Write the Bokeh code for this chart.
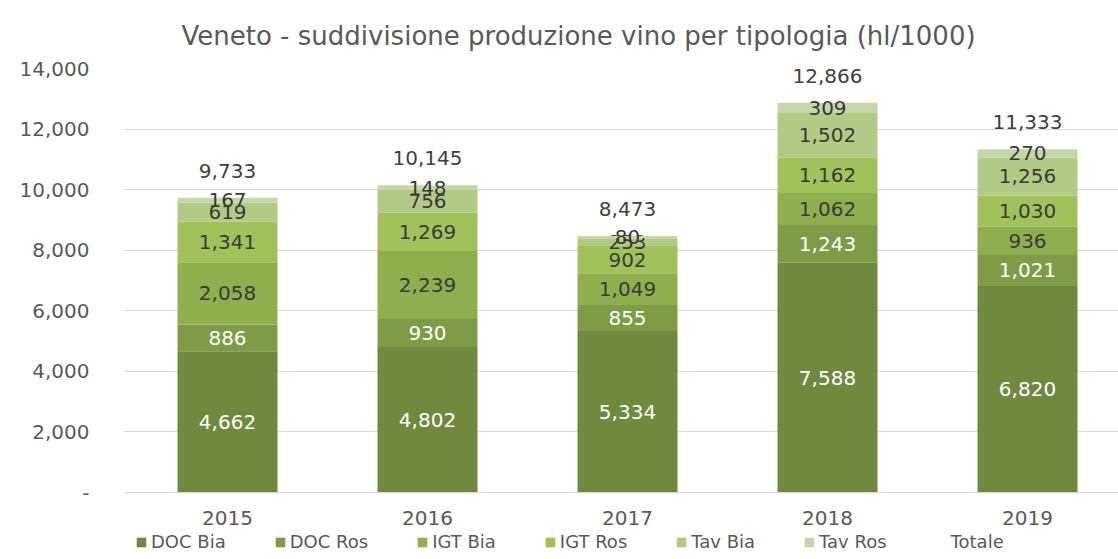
from bokeh.plotting import figure
from bokeh.models import (ColumnDataSource, Range1d, FixedTicker, Legend, LegendItem,
                          NumeralTickFormatter, Title)
from bokeh.core.properties import value
from bokeh.embed import file_html
from bokeh.resources import INLINE

# ---------------- data ----------------
years = ["2015", "2016", "2017", "2018", "2019"]
series_names = ["DOC Bia", "DOC Ros", "IGT Bia", "IGT Ros", "Tav Bia", "Tav Ros"]
doc_bia = [4662, 4802, 5334, 7588, 6820]
doc_ros = [886, 930, 855, 1243, 1021]
igt_bia = [2058, 2239, 1049, 1062, 936]
igt_ros = [1341, 1269, 902, 1162, 1030]
tav_bia = [619, 756, 253, 1502, 1256]
tav_ros = [167, 148, 80, 309, 270]
totale = [9733, 10145, 8473, 12866, 11333]
y_ticks = [0, 2000, 4000, 6000, 8000, 10000, 12000, 14000]

series_values = [doc_bia, doc_ros, igt_bia, igt_ros, tav_bia, tav_ros]
colors = ["#71893F", "#7F9B47", "#8FAE4E", "#A1C15A", "#B2CA86", "#C6D6A8"]
label_colors = ["#FFFFFF", "#FFFFFF", "#3A3A3A", "#3A3A3A", "#3A3A3A", "#3A3A3A"]

FONT = "DejaVu Sans"
GREY = "#595959"

x = list(range(len(years)))

# frame: 14,000 at top, 0 at 424 px below; extra 67 px below 0 for axis labels + legend
y_bottom = -67 / 424 * 14000

p = figure(width=1118, height=559, output_backend="svg", toolbar_location=None,
           x_range=Range1d(-0.52, 4.455), y_range=Range1d(y_bottom, 14000),
           min_border_left=123, min_border_right=0, min_border_top=68,
           min_border_bottom=0)
p.title = Title(text="Veneto - suddivisione produzione  vino per tipologia (hl/1000)",
                align="left", offset=58, text_font=FONT, text_font_size="26px",
                text_font_style="normal", text_color=GREY, standoff=36)
p.outline_line_color = None
p.background_fill_color = "white"
p.border_fill_color = "white"

renderers = []
bottoms = [0] * len(years)
for name, vals, col, lcol in zip(series_names, series_values, colors, label_colors):
    tops = [b + v for b, v in zip(bottoms, vals)]
    mids = [(b + t) / 2 for b, t in zip(bottoms, tops)]
    src = ColumnDataSource(dict(x=x, bottom=bottoms, top=tops, mid=mids,
                                lab=[f"{v:,}" for v in vals]))
    r = p.vbar(x="x", width=0.5, bottom="bottom", top="top", source=src,
               fill_color=col, line_color=None)
    renderers.append(r)
    p.text(x="x", y="mid", text="lab", source=src, text_align="center",
           text_baseline="middle", text_font=value(FONT), text_font_size="20px",
           text_color=lcol)
    bottoms = tops

tot_src = ColumnDataSource(dict(x=x, y=totale, lab=[f"{v:,}" for v in totale]))
p.text(x="x", y="y", text="lab", source=tot_src, text_align="center",
       text_baseline="middle", y_offset=-27, text_font=value(FONT),
       text_font_size="20px", text_color="#404040")
tot_r = p.scatter(x="x", y="y", source=tot_src, size=1, alpha=0)

# axes
p.xaxis.fixed_location = 0
p.xaxis.ticker = FixedTicker(ticks=x)
p.xaxis.major_label_overrides = {i: y for i, y in zip(x, years)}
p.xaxis.major_tick_line_color = None
p.xaxis.minor_tick_line_color = None
p.xaxis.axis_line_color = "#D9D9D9"
p.xaxis.major_label_standoff = 12
p.xaxis.major_label_text_font = FONT
p.xaxis.major_label_text_font_size = "20px"
p.xaxis.major_label_text_color = GREY

p.yaxis.ticker = FixedTicker(ticks=y_ticks)
p.yaxis.formatter = NumeralTickFormatter(format="0,0")
p.yaxis.major_label_overrides = {0: "-"}
p.yaxis.major_tick_line_color = None
p.yaxis.minor_tick_line_color = None
p.yaxis.axis_line_color = None
p.yaxis.major_label_standoff = 28
p.yaxis.major_label_text_font = FONT
p.yaxis.major_label_text_font_size = "20px"
p.yaxis.major_label_text_color = GREY

p.xgrid.grid_line_color = None
p.ygrid.grid_line_color = "#D9D9D9"
p.ygrid.ticker = FixedTicker(ticks=y_ticks)

items = [LegendItem(label=n, renderers=[r]) for n, r in zip(series_names, renderers)]
items.append(LegendItem(label="Totale", renderers=[tot_r]))
legend = Legend(items=items, orientation="horizontal", location=(12, 7),
                border_line_alpha=0, background_fill_alpha=0, padding=0, margin=0,
                spacing=48, glyph_width=12, glyph_height=12, label_standoff=4,
                label_height=18, label_text_font=FONT, label_text_font_size="18px",
                label_text_color=GREY)
p.add_layout(legend)

open("out.html", "w").write(file_html(p, INLINE))
